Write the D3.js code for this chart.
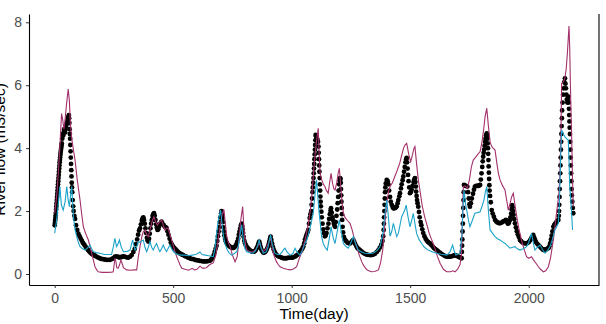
<!DOCTYPE html>
<html>
<head>
<meta charset="utf-8">
<script src="https://cdn.jsdelivr.net/npm/d3@7"></script>
<style>
  body { margin: 0; background: #fff; }
  svg { display: block; font-family: 'Liberation Sans', Arial, sans-serif; }
</style>
</head>
<body>
<svg></svg>
<script>
const width = 606;
const height = 324;

// observed flow, [day, m3/sec]
const observed = [
  [0,1.55],[1,1.62],[2,1.7],[3,1.78],[4,1.86],[5,1.95],[6,2.05],[7,2.15],[8,2.25],[9,2.35],
  [10,2.45],[11,2.55],[12,2.65],[13,2.75],[14,2.85],[15,2.95],[16,3.05],[17,3.15],[18,3.25],[19,3.35],
  [20,3.45],[21,3.55],[22,3.62],[23,3.7],[24,3.78],[25,3.85],[26,3.92],[27,3.98],[28,4.04],[29,4.1],
  [30,4.15],[32,4.3],[34,4.45],[36,4.4],[38,4.5],[40,4.6],[42,4.55],[44,4.5],[46,4.6],[48,4.7],
  [50,4.75],[52,4.8],[54,4.88],[56,4.95],[58,5.0],[60,5.05],[61,4.95],[62,4.8],[63,4.6],[64,4.45],
  [65,4.3],[66,4.1],[67,3.9],[68,3.7],[69,3.5],[70,3.3],[71,3.1],[72,2.9],[73,2.75],[74,2.6],
  [76,2.35],[78,2.15],[80,2.0],[83,1.85],[86,1.75],[90,1.55],[95,1.4],[100,1.28],[105,1.2],[110,1.12],
  [115,1.05],[120,0.98],[125,0.93],[130,0.87],[135,0.82],[140,0.77],[145,0.72],[150,0.68],[155,0.65],[160,0.62],
  [165,0.6],[170,0.58],[177,0.55],[184,0.52],[190,0.5],[197,0.48],[204,0.47],[211,0.46],[218,0.45],[225,0.45],
  [233,0.45],[240,0.47],[247,0.5],[254,0.55],[261,0.56],[268,0.54],[275,0.52],[282,0.54],[289,0.56],[296,0.55],
  [303,0.53],[310,0.52],[318,0.55],[325,0.6],[332,0.7],[338,0.8],[343,0.95],[348,1.1],[352,1.25],[356,1.38],
  [360,1.45],[364,1.58],[368,1.7],[371,1.77],[374,1.8],[377,1.72],[380,1.6],[383,1.45],[386,1.3],[389,1.15],
  [392,1.07],[395,1.03],[398,1.12],[401,1.28],[404,1.45],[407,1.6],[410,1.72],[413,1.84],[416,1.9],[419,1.93],
  [422,1.85],[425,1.72],[428,1.58],[431,1.48],[434,1.4],[437,1.42],[440,1.5],[444,1.58],[448,1.63],[451,1.66],
  [455,1.6],[460,1.55],[465,1.5],[469,1.48],[472,1.46],[476,1.36],[480,1.25],[485,1.12],[490,1.0],[495,0.93],
  [500,0.87],[505,0.82],[510,0.78],[515,0.74],[520,0.7],[525,0.67],[530,0.65],[536,0.62],[542,0.6],[549,0.57],
  [556,0.55],[563,0.52],[570,0.5],[577,0.48],[585,0.47],[592,0.45],[598,0.44],[605,0.43],[612,0.42],[619,0.41],
  [626,0.4],[633,0.4],[640,0.4],[647,0.41],[655,0.42],[661,0.46],[666,0.52],[671,0.6],[675,0.7],[679,0.8],
  [683,0.9],[686,1.05],[689,1.2],[692,1.35],[695,1.5],[697,1.65],[699,1.8],[702,1.92],[704,2.0],[706,1.9],
  [708,1.78],[710,1.65],[712,1.48],[714,1.35],[716,1.22],[719,1.12],[722,1.04],[726,0.98],[731,0.93],[736,0.89],
  [741,0.86],[746,0.84],[750,0.83],[754,0.83],[758,0.85],[762,0.88],[766,0.94],[770,1.02],[774,1.12],[777,1.25],
  [780,1.35],[783,1.45],[786,1.55],[789,1.6],[791,1.52],[793,1.42],[795,1.3],[797,1.18],[800,1.06],[803,0.98],
  [806,0.92],[810,0.87],[815,0.82],[820,0.78],[825,0.75],[830,0.72],[835,0.71],[840,0.71],[845,0.73],[849,0.77],
  [853,0.83],[857,0.9],[860,0.97],[863,1.03],[866,0.95],[869,0.86],[872,0.78],[876,0.72],[880,0.68],[884,0.68],
  [888,0.7],[892,0.74],[896,0.8],[900,0.87],[903,0.95],[906,1.04],[909,1.13],[911,1.19],[914,1.08],[917,0.97],
  [920,0.87],[924,0.78],[928,0.7],[932,0.65],[937,0.6],[942,0.57],[948,0.55],[954,0.53],[960,0.51],[966,0.5],
  [972,0.5],[978,0.5],[984,0.51],[990,0.52],[996,0.52],[1002,0.52],[1007,0.53],[1013,0.55],[1019,0.58],[1025,0.61],
  [1030,0.65],[1035,0.7],[1040,0.75],[1045,0.81],[1049,0.87],[1053,0.98],[1056,1.1],[1060,1.18],[1063,1.25],[1067,1.33],
  [1070,1.4],[1073,1.6],[1076,1.78],[1079,1.9],[1082,2.0],[1084,2.2],[1086,2.4],[1088,2.6],[1089,2.75],[1091,2.9],
  [1092,3.05],[1093,3.2],[1094,3.35],[1095,3.5],[1096,3.65],[1097,3.8],[1098,3.95],[1099,4.1],[1100,4.25],[1101,4.42],
  [1103,4.38],[1105,4.34],[1107,4.3],[1109,4.25],[1111,4.2],[1113,4.05],[1114,3.85],[1115,3.65],[1116,3.45],[1117,3.25],
  [1118,3.05],[1119,2.85],[1120,2.65],[1121,2.46],[1122,2.3],[1123,2.15],[1125,1.98],[1127,1.8],[1130,1.6],[1133,1.42],
  [1136,1.3],[1140,1.2],[1143,1.22],[1147,1.3],[1151,1.45],[1155,1.6],[1158,1.75],[1161,1.9],[1164,2.02],[1166,2.09],
  [1169,1.95],[1172,1.8],[1175,1.7],[1178,1.6],[1181,1.53],[1183,1.5],[1186,1.65],[1189,1.85],[1192,2.05],[1194,2.25],
  [1196,2.45],[1198,2.65],[1200,2.85],[1202,2.98],[1204,3.05],[1206,3.02],[1207,2.9],[1208,2.7],[1209,2.5],[1210,2.3],
  [1211,2.1],[1212,1.9],[1213,1.72],[1215,1.5],[1217,1.32],[1220,1.18],[1224,1.1],[1229,1.05],[1235,1.0],[1240,0.98],
  [1246,0.97],[1250,1.0],[1255,1.04],[1260,1.08],[1264,1.02],[1268,0.95],[1273,0.88],[1278,0.82],[1283,0.79],[1288,0.76],
  [1294,0.72],[1300,0.68],[1307,0.65],[1315,0.62],[1322,0.61],[1330,0.6],[1337,0.6],[1345,0.62],[1352,0.65],[1359,0.7],
  [1366,0.76],[1372,0.84],[1378,0.93],[1383,1.05],[1386,1.2],[1388,1.4],[1389,1.6],[1390,1.8],[1391,2.0],[1392,2.2],
  [1393,2.4],[1394,2.6],[1395,2.75],[1397,2.88],[1401,2.99],[1405,2.95],[1408,2.85],[1411,2.65],[1415,2.45],[1418,2.3],
  [1422,2.2],[1426,2.13],[1429,2.09],[1433,2.09],[1436,2.1],[1440,2.12],[1443,2.15],[1447,2.25],[1450,2.35],[1454,2.47],
  [1457,2.57],[1461,2.72],[1464,2.85],[1468,2.98],[1471,3.1],[1474,3.25],[1477,3.4],[1480,3.55],[1483,3.65],[1485,3.69],
  [1487,3.55],[1489,3.35],[1491,3.15],[1493,2.95],[1496,2.75],[1499,2.57],[1502,2.6],[1506,2.68],[1510,2.8],[1514,2.92],
  [1517,3.0],[1520,3.05],[1522,2.92],[1524,2.78],[1525,2.62],[1527,2.48],[1529,2.35],[1531,2.25],[1534,2.14],[1537,1.97],
  [1540,1.8],[1544,1.65],[1547,1.55],[1551,1.42],[1555,1.3],[1560,1.2],[1565,1.12],[1570,1.06],[1575,1.02],[1580,0.99],
  [1583,0.97],[1589,0.92],[1595,0.87],[1600,0.83],[1606,0.79],[1612,0.76],[1618,0.72],[1625,0.68],[1632,0.64],[1640,0.6],
  [1647,0.57],[1654,0.55],[1661,0.55],[1668,0.55],[1675,0.56],[1682,0.58],[1688,0.6],[1694,0.58],[1700,0.56],[1706,0.54],
  [1712,0.52],[1717,0.5],[1718,0.7],[1719,0.9],[1720,1.1],[1721,1.35],[1722,1.6],[1723,1.85],[1724,2.1],[1725,2.35],
  [1726,2.6],[1727,2.83],[1731,2.81],[1735,2.8],[1741,2.78],[1744,2.6],[1747,2.4],[1750,2.22],[1752,2.14],[1756,2.25],
  [1760,2.4],[1765,2.55],[1769,2.68],[1773,2.78],[1778,2.8],[1783,2.8],[1788,2.8],[1792,2.82],[1795,2.83],[1798,3.0],
  [1801,3.2],[1804,3.4],[1806,3.58],[1808,3.73],[1810,3.85],[1812,3.95],[1814,4.08],[1816,4.2],[1818,4.3],[1820,4.4],
  [1823,4.47],[1825,4.42],[1826,4.3],[1827,4.15],[1828,4.0],[1829,3.82],[1830,3.62],[1831,3.42],[1832,3.22],[1833,3.02],
  [1834,2.82],[1835,2.65],[1837,2.48],[1840,2.28],[1844,2.03],[1848,1.92],[1853,1.82],[1858,1.72],[1863,1.67],[1868,1.64],
  [1873,1.62],[1879,1.61],[1885,1.63],[1891,1.66],[1897,1.69],[1904,1.72],[1908,1.66],[1912,1.6],[1916,1.62],[1920,1.7],
  [1923,1.8],[1926,1.92],[1928,2.05],[1930,2.19],[1932,2.12],[1934,2.0],[1936,1.88],[1939,1.74],[1942,1.61],[1946,1.48],
  [1950,1.36],[1954,1.26],[1958,1.18],[1963,1.08],[1968,1.04],[1974,1.0],[1980,0.98],[1986,0.97],[1991,0.97],[1996,0.99],
  [2001,1.02],[2006,1.07],[2010,1.12],[2014,1.18],[2019,1.24],[2023,1.16],[2027,1.08],[2031,1.01],[2036,0.96],[2041,0.92],
  [2046,0.88],[2051,0.84],[2056,0.8],[2062,0.76],[2067,0.77],[2072,0.78],[2077,0.8],[2083,0.82],[2087,0.88],[2091,0.98],
  [2094,1.1],[2097,1.22],[2100,1.35],[2104,1.5],[2108,1.56],[2112,1.6],[2116,1.64],[2120,1.68],[2125,1.72],[2127,1.85],
  [2128,2.0],[2129,2.2],[2130,2.45],[2131,2.7],[2132,2.95],[2133,3.2],[2134,3.45],[2135,3.7],[2136,3.95],[2137,4.2],
  [2138,4.45],[2139,4.7],[2140,4.95],[2141,5.2],[2143,5.45],[2145,5.7],[2147,5.9],[2150,6.1],[2153,6.22],[2155,6.05],
  [2157,5.9],[2159,5.7],[2161,5.55],[2163,5.45],[2165,5.55],[2167,5.64],[2169,5.45],[2170,5.25],[2171,5.05],[2172,4.85],
  [2173,4.65],[2174,4.45],[2175,4.2],[2176,3.95],[2177,3.7],[2178,3.45],[2179,3.2],[2180,2.95],[2181,2.7],[2182,2.5],
  [2184,2.3],[2186,2.1],[2188,1.93]
];

// simulated flow, model A (purple)
const modelA = [
  [0,1.93],[10,2.6],[20,3.8],[29,5.1],[34,4.9],[39,4.6],[45,5.0],[50,5.4],[57,5.88],[62,5.5],
  [66,4.8],[72,4.3],[80,3.9],[86,3.62],[95,3.0],[107,2.35],[114,1.9],[121,1.5],[130,1.3],[142,1.08],
  [150,0.85],[156,0.66],[163,0.45],[170,0.23],[178,0.12],[184,0.07],[200,0.05],[220,0.05],[240,0.06],[247,0.07],
  [251,0.3],[254,0.5],[258,0.4],[262,0.2],[268,0.19],[274,0.3],[279,0.44],[284,0.35],[290,0.2],[304,0.13],
  [320,0.12],[335,0.13],[346,0.13],[352,0.5],[360,0.87],[368,1.2],[374,1.35],[381,1.4],[388,1.25],[395,1.19],
  [405,1.5],[412,1.7],[419,1.82],[426,1.65],[433,1.56],[442,1.65],[451,1.72],[458,1.55],[465,1.4],[472,1.45],
  [479,1.46],[486,1.25],[493,1.1],[500,0.92],[508,0.7],[515,0.55],[521,0.44],[528,0.3],[536,0.18],[550,0.15],
  [565,0.12],[580,0.18],[590,0.13],[600,0.15],[613,0.25],[625,0.18],[640,0.2],[655,0.3],[669,0.35],[680,0.6],
  [690,1.1],[700,1.6],[707,1.9],[714,2.05],[720,1.6],[726,1.2],[733,1.0],[740,0.87],[750,0.6],[761,0.39],
  [770,0.55],[778,1.1],[785,1.7],[793,2.14],[799,1.4],[805,0.95],[810,0.76],[820,0.72],[830,0.7],[838,0.71],
  [850,0.8],[858,0.9],[866,0.97],[873,0.8],[880,0.72],[890,0.78],[900,0.95],[906,1.05],[911,1.13],[918,0.85],
  [925,0.6],[935,0.4],[943,0.3],[951,0.23],[965,0.18],[980,0.15],[993,0.13],[1005,0.15],[1015,0.2],[1021,0.23],
  [1030,0.45],[1040,0.65],[1049,0.87],[1060,1.2],[1070,1.6],[1077,1.93],[1085,2.5],[1093,3.3],[1100,3.9],[1106,4.3],
  [1112,4.63],[1116,3.8],[1120,3.2],[1127,2.99],[1134,2.85],[1140,2.78],[1147,2.65],[1154,2.57],[1160,2.9],[1166,3.2],
  [1172,2.9],[1178,2.7],[1183,2.67],[1190,2.9],[1196,3.2],[1201,3.36],[1206,2.9],[1212,2.3],[1218,1.93],[1225,1.8],
  [1235,1.7],[1246,1.61],[1255,1.4],[1265,1.1],[1274,0.87],[1285,0.6],[1295,0.4],[1302,0.29],[1315,0.15],[1325,0.1],
  [1337,0.07],[1350,0.08],[1366,0.13],[1375,0.35],[1384,0.76],[1390,1.3],[1396,1.9],[1401,2.25],[1408,2.6],[1415,2.78],
  [1425,2.9],[1435,3.1],[1443,3.25],[1455,3.5],[1465,3.8],[1472,4.0],[1478,4.1],[1485,4.15],[1494,3.8],[1502,3.57],
  [1510,3.8],[1516,4.0],[1520,4.05],[1527,3.5],[1534,3.0],[1541,2.67],[1550,2.2],[1560,1.85],[1569,1.61],[1580,1.3],
  [1590,1.1],[1597,0.97],[1605,0.8],[1615,0.55],[1626,0.34],[1640,0.15],[1654,0.07],[1670,0.07],[1680,0.1],[1689,0.07],
  [1700,0.15],[1710,0.29],[1716,0.6],[1720,1.5],[1724,2.78],[1732,2.8],[1741,2.72],[1750,3.0],[1758,3.4],[1766,3.62],
  [1775,3.7],[1785,3.8],[1795,3.89],[1803,4.2],[1810,4.6],[1816,5.0],[1823,5.27],[1830,4.7],[1837,4.2],[1844,4.05],
  [1850,4.0],[1858,3.94],[1866,3.5],[1872,3.2],[1879,2.99],[1890,2.8],[1900,2.67],[1907,2.35],[1914,2.03],[1920,2.2],
  [1928,2.45],[1935,2.57],[1942,2.2],[1950,1.8],[1957,1.5],[1963,1.29],[1972,1.0],[1980,0.8],[1991,0.55],[2000,0.5],
  [2012,0.55],[2020,0.45],[2030,0.35],[2041,0.23],[2050,0.15],[2062,0.07],[2072,0.1],[2083,0.23],[2092,0.5],[2098,0.8],
  [2104,1.08],[2112,1.6],[2120,2.1],[2127,2.5],[2132,3.2],[2136,4.5],[2139,6.06],[2145,6.1],[2152,6.2],[2158,6.5],
  [2163,7.0],[2167,7.5],[2170,7.88],[2173,7.2],[2176,6.0],[2179,5.0],[2181,4.47],[2184,3.3],[2188,2.14]
];

// simulated flow, model B (cyan)
const modelB = [
  [0,1.3],[8,1.7],[15,2.2],[22,2.78],[28,2.2],[36,2.03],[44,2.3],[51,2.78],[56,2.4],[62,2.14],
  [67,2.5],[72,2.78],[79,1.82],[86,1.4],[93,1.19],[100,1.0],[107,0.87],[118,0.8],[128,0.76],[138,0.82],
  [149,0.92],[156,0.8],[163,0.71],[175,0.68],[191,0.66],[210,0.62],[225,0.62],[240,0.62],[247,0.85],[254,1.13],
  [261,0.87],[267,0.95],[273,1.08],[281,0.85],[290,0.71],[305,0.72],[318,0.76],[324,0.95],[329,1.08],[334,0.9],
  [339,0.76],[346,0.85],[353,1.03],[360,1.0],[367,1.05],[374,1.08],[381,0.85],[388,0.71],[395,0.85],[402,1.03],
  [409,0.85],[416,0.76],[423,0.88],[430,0.97],[437,0.82],[444,0.71],[451,0.8],[458,0.92],[465,0.8],[472,0.71],
  [479,0.82],[486,0.92],[497,0.75],[508,0.66],[520,0.62],[535,0.6],[550,0.6],[565,0.58],[580,0.6],[595,0.62],
  [605,0.66],[613,0.7],[622,0.62],[635,0.6],[650,0.58],[669,0.55],[676,0.8],[683,1.29],[690,1.7],[700,2.03],
  [706,1.6],[712,1.2],[718,0.97],[726,0.8],[735,0.68],[747,0.6],[758,0.65],[768,0.71],[775,0.9],[782,1.25],
  [789,1.56],[796,1.1],[803,0.8],[810,0.71],[825,0.68],[838,0.66],[848,0.75],[856,0.9],[863,1.08],[870,0.85],
  [880,0.66],[892,0.7],[900,0.85],[905,1.05],[911,1.24],[918,0.95],[929,0.66],[940,0.62],[950,0.62],[960,0.7],
  [966,0.78],[972,0.82],[980,0.7],[993,0.6],[1005,0.65],[1010,0.75],[1014,0.82],[1022,0.7],[1035,0.6],[1045,0.75],
  [1055,0.95],[1063,1.08],[1070,1.24],[1080,1.55],[1091,1.93],[1098,2.5],[1105,2.99],[1110,2.5],[1114,2.1],[1119,1.72],
  [1126,1.2],[1133,0.97],[1141,0.85],[1150,0.76],[1158,1.1],[1166,1.5],[1175,1.15],[1183,0.97],[1192,1.35],[1201,1.72],
  [1210,1.3],[1218,0.97],[1228,0.88],[1239,0.82],[1250,1.0],[1260,1.19],[1270,0.95],[1281,0.76],[1295,0.7],[1309,0.66],
  [1325,0.65],[1344,0.66],[1360,0.75],[1373,0.87],[1385,1.3],[1394,1.93],[1401,2.35],[1408,1.8],[1415,1.2],[1422,1.35],
  [1429,1.61],[1436,1.4],[1443,1.19],[1450,1.29],[1457,1.55],[1464,1.82],[1471,1.93],[1478,2.05],[1483,2.19],[1490,1.85],
  [1499,1.5],[1506,1.7],[1513,1.93],[1520,1.6],[1527,1.29],[1537,1.1],[1548,0.97],[1560,0.85],[1576,0.76],[1595,0.7],
  [1612,0.66],[1630,0.63],[1654,0.6],[1668,0.7],[1679,0.92],[1686,0.72],[1693,0.6],[1710,0.66],[1718,1.2],[1722,2.0],
  [1727,2.67],[1734,2.2],[1741,1.93],[1746,1.7],[1752,1.5],[1762,1.7],[1773,1.93],[1784,1.95],[1795,1.98],[1803,2.15],
  [1811,2.35],[1817,2.6],[1823,2.78],[1830,2.0],[1837,1.4],[1847,1.3],[1858,1.19],[1868,1.12],[1879,1.08],[1890,1.02],
  [1900,0.97],[1910,0.9],[1921,0.82],[1932,0.85],[1942,0.87],[1952,0.8],[1963,0.76],[1977,0.8],[1991,0.87],[2000,1.0],
  [2008,1.2],[2012,1.29],[2019,1.0],[2026,0.76],[2037,0.85],[2048,0.92],[2058,0.78],[2069,0.66],[2080,0.75],[2090,0.87],
  [2100,1.1],[2111,1.4],[2118,1.5],[2125,1.61],[2129,2.14],[2133,3.2],[2136,4.0],[2139,4.58],[2146,4.45],[2153,4.36],
  [2160,4.3],[2167,4.26],[2170,3.6],[2173,2.78],[2178,2.3],[2181,1.93],[2185,1.4]
];

const xTicks = [0, 500, 1000, 1500, 2000];
const yTicks = [0, 2, 4, 6, 8];

const margin = { top: 14, right: 7, bottom: 39, left: 29 };
const innerWidth = width - margin.left - margin.right;
const innerHeight = height - margin.top - margin.bottom;

const svg = d3.select('svg')
	.attr('width', width)
	.attr('height', height);

const x = d3.scaleLinear()
	.domain([-108.4, 2296.6])
	.range([0, innerWidth]);
const y = d3.scaleLinear()
	.domain([-0.35, 8.264])
	.range([innerHeight, 0]);

const g = svg.append('g')
	.attr('transform', `translate(${margin.left}, ${margin.top})`);

// axes
const xAxis = g.append('g')
	.attr('transform', `translate(0, ${innerHeight})`)
	.call(d3.axisBottom(x).tickValues(xTicks).tickFormat(d3.format('d'))
		.tickSize(3).tickSizeOuter(0).tickPadding(5));
const yAxis = g.append('g')
	.call(d3.axisLeft(y).tickValues(yTicks).tickFormat(d3.format('d'))
		.tickSize(3).tickSizeOuter(0).tickPadding(4));

[xAxis, yAxis].forEach(a => {
	a.select('.domain').attr('stroke', '#000').attr('stroke-width', 1.1);
	a.selectAll('.tick line').attr('stroke', '#333').attr('stroke-width', 1);
	a.selectAll('.tick text')
		.attr('fill', '#4d4d4d')
		.style('font-size', '14px')
		.style('font-family', "'Liberation Sans', Arial, sans-serif");
});

// right border
g.append('line')
	.attr('x1', innerWidth).attr('x2', innerWidth)
	.attr('y1', 0).attr('y2', innerHeight)
	.attr('stroke', '#000')
	.attr('stroke-width', 1.1);

// observed points
g.append('g')
	.selectAll('circle')
	.data(observed)
	.enter().append('circle')
		.attr('cx', d => x(d[0]))
		.attr('cy', d => y(d[1]))
		.attr('r', 2.4)
		.attr('fill', '#000');

const line = d3.line()
	.x(d => x(d[0]))
	.y(d => y(d[1]));

g.append('path')
	.datum(modelA)
	.attr('d', line)
	.attr('fill', 'none')
	.attr('stroke', '#a3306a')
	.attr('stroke-width', 1.1);

g.append('path')
	.datum(modelB)
	.attr('d', line)
	.attr('fill', 'none')
	.attr('stroke', '#1ba3c9')
	.attr('stroke-width', 1.1);

// axis titles
svg.append('text')
	.attr('x', margin.left + innerWidth / 2)
	.attr('y', 319)
	.attr('text-anchor', 'middle')
	.style('font-size', '15.5px')
	.attr('fill', '#000')
	.text('Time(day)');

// y title sits partly past the left edge, as in the original figure
svg.append('text')
	.attr('transform', `translate(5, ${margin.top + innerHeight / 2}) rotate(-90)`)
	.attr('text-anchor', 'middle')
	.style('font-size', '15.5px')
	.attr('fill', '#000')
	.text('River flow (m3/sec)');
</script>
</body>
</html>
